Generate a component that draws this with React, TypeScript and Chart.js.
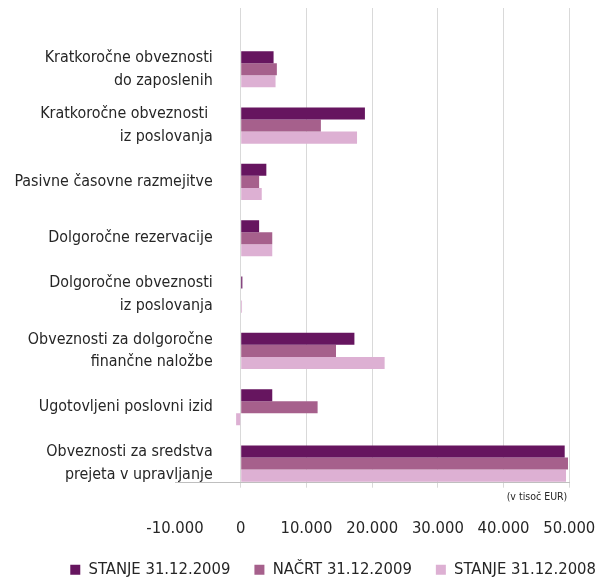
import React, { useEffect, useRef } from 'react';
import { Chart, registerables } from 'chart.js';

Chart.register(...registerables);

const categories: string[][] = [
  ['Kratkoročne obveznosti', 'do zaposlenih'],
  ['Kratkoročne obveznosti ', 'iz poslovanja'],
  ['Pasivne časovne razmejitve'],
  ['Dolgoročne rezervacije'],
  ['Dolgoročne obveznosti', 'iz poslovanja'],
  ['Obveznosti za dolgoročne', 'finančne naložbe'],
  ['Ugotovljeni poslovni izid'],
  ['Obveznosti za sredstva', 'prejeta v upravljanje'],
];
const seriesNames = ['STANJE 31.12.2009', 'NAČRT 31.12.2009', 'STANJE 31.12.2008'];
const stanje2009 = [5000, 18900, 3900, 2800, 250, 17300, 4800, 49300];
const nacrt2009 = [5500, 12200, 2800, 4800, 0, 14500, 11700, 49800];
const stanje2008 = [5300, 17700, 3200, 4800, 200, 21900, -700, 49500];
const xTicks = [-10000, 0, 10000, 20000, 30000, 40000, 50000];
const unitLabel = '(v tisoč EUR)';
const colors = ['#66155F', '#A6608C', '#DDB0D3'];

const FONT = "'DejaVu Sans Condensed', 'Liberation Sans Narrow', 'Open Sans', sans-serif";
const TEXT = '#262626';

const fmt = (v: number) => {
  const s = Math.abs(v).toFixed(0).replace(/\B(?=(\d{3})+(?!\d))/g, '.');
  return (v < 0 ? '-' : '') + s;
};

const labelPlugin = {
  id: 'catLabels',
  afterDraw(chart: any) {
    const { ctx, scales } = chart;
    const x = scales.x;
    const y = scales.y;
    ctx.save();
    ctx.font = `15.9px ${FONT}`;
    ctx.fillStyle = TEXT;
    ctx.textAlign = 'right';
    ctx.textBaseline = 'middle';
    const right = x.getPixelForValue(0) - 28;
    const lh = 22.5;
    categories.forEach((lines, i) => {
      const cy = y.getPixelForValue(i);
      lines.forEach((l, j) => {
        ctx.fillText(l, right, cy + (j - (lines.length - 1) / 2) * lh);
      });
    });
    ctx.font = `10.5px ${FONT}`;
    ctx.fillText(unitLabel, x.right - 2, y.bottom + 15);
    ctx.restore();
  },
};

export default function App() {
  const ref = useRef<HTMLCanvasElement | null>(null);
  useEffect(() => {
    if (!ref.current) return;
    const series = [stanje2009, nacrt2009, stanje2008];
    const chart = new Chart(ref.current, {
      type: 'bar',
      data: {
        datasets: series.map((s, k) => ({
          label: seriesNames[k],
          data: s.map((v, i) => ({ x: v, y: i })),
          backgroundColor: colors[k],
          borderWidth: 0,
          categoryPercentage: 0.642,
          barPercentage: 1,
        })),
      },
      options: {
        indexAxis: 'y',
        animation: false,
        responsive: true,
        maintainAspectRatio: false,
        layout: { padding: { top: 8, right: -22, bottom: -7, left: 0 } },
        scales: {
          x: {
            type: 'linear',
            min: -10000,
            max: 50000,
            afterBuildTicks: (s: any) => {
              s.ticks = xTicks.map((v) => ({ value: v }));
            },
            afterFit: (s: any) => {
              s.paddingLeft = 0;
              s.paddingRight = 28.7;
              s.height = s.height - 32;
            },
            grid: {
              color: (c: any) => (c.tick && c.tick.value === -10000 ? 'rgba(0,0,0,0)' : '#d9d9d9'),
              lineWidth: 1,
              tickLength: 5,
              drawTicks: true,
            },
            border: { color: '#bfbfbf', width: 1 },
            ticks: {
              font: { size: 16.5, family: FONT },
              color: TEXT,
              padding: 31,
              maxRotation: 0,
              autoSkip: false,
              callback: (v: any) => fmt(Number(v)),
            },
          },
          y: {
            type: 'linear',
            reverse: true,
            offset: false,
            min: -1.087,
            max: 7.34,
            afterBuildTicks: (s: any) => {
              s.ticks = categories.map((_, i) => ({ value: i }));
            },
            grid: { display: false, offset: false },
            border: { display: false },
            ticks: { display: false },
            afterFit: (s: any) => {
              s.width = 175;
            },
          },
        },
        plugins: {
          legend: {
            position: 'bottom',
            align: 'end',
            labels: {
              boxWidth: 10,
              boxHeight: 10,
              padding: 24,
              color: TEXT,
              font: { size: 16.5, family: FONT },
            },
          },
          tooltip: { enabled: false },
        },
      },
      plugins: [labelPlugin],
    } as any);
    return () => chart.destroy();
  }, []);
  return (
    <div style={{ position: 'absolute', left: 0, top: 0, width: 598, height: 581 }}>
      <canvas ref={ref} />
    </div>
  );
}
